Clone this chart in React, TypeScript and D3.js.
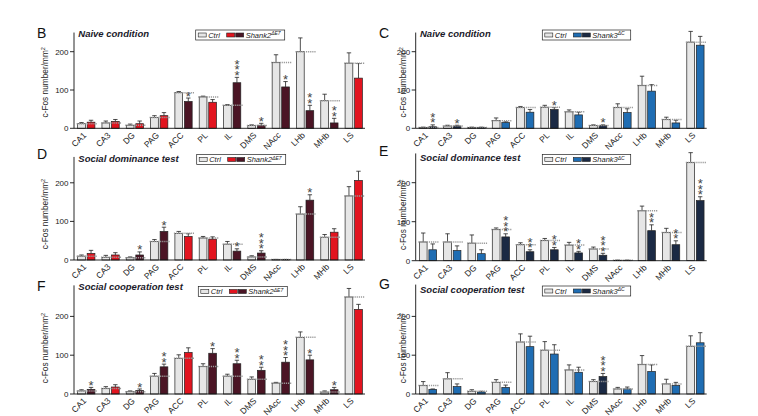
import React from 'react';
import * as d3 from 'd3';

const categories = ['CA1', 'CA3', 'DG', 'PAG', 'ACC', 'PL', 'IL', 'DMS', 'NAcc', 'LHb', 'MHb', 'LS'];
const yTicks = [0, 100, 200];

// Panel B: Shank2, naive
const bCtrl = [12, 14, 8, 28, 93, 82, 60, 7, 172, 200, 72, 170];
const bCtrlErr = [3, 5, 3, 5, 3, 2, 2, 2, 20, 36, 17, 27];
const bMut = [16, 18, 12, 33, 70, 68, 119, 8, 108, 46, 14, 131];
const bMutErr = [5, 5, 7, 8, 9, 7, 14, 5, 14, 14, 12, 38];
const bStars = [0, 0, 0, 0, 1, 0, 3, 1, 1, 2, 2, 0];

// Panel C: Shank3, naive
const cCtrl = [2, 6, 2, 20, 54, 55, 43, 7, 54, 112, 23, 225];
const cCtrlErr = [1, 2, 1, 7, 3, 5, 5, 2, 10, 24, 6, 28];
const cMut = [4, 6, 2, 15, 42, 49, 35, 7, 41, 97, 14, 217];
const cMutErr = [5, 2, 1, 2, 7, 5, 7, 2, 10, 17, 7, 23];
const cStars = [2, 1, 0, 0, 0, 1, 0, 1, 0, 0, 0, 0];

// Panel D: Shank2, social dominance
const dCtrl = [10, 7, 6, 48, 69, 57, 41, 8, 1, 119, 59, 166];
const dCtrlErr = [3, 5, 2, 5, 5, 4, 7, 3, 0.5, 19, 7, 24];
const dMut = [17, 13, 13, 74, 61, 54, 23, 18, 1, 155, 72, 206];
const dMutErr = [8, 6, 8, 11, 7, 6, 6, 6, 0.5, 14, 9, 24];
const dStars = [0, 0, 1, 1, 0, 0, 1, 3, 0, 1, 0, 0];

// Panel E: Shank3, social dominance
const eCtrl = [48, 48, 45, 80, 41, 52, 40, 30, 1, 128, 72, 252];
const eCtrlErr = [23, 21, 21, 4, 5, 5, 7, 5, 0.5, 12, 11, 25];
const eMut = [28, 26, 18, 61, 23, 28, 20, 14, 1, 77, 41, 154];
const eMutErr = [15, 12, 10, 8, 5, 6, 4, 5, 0.5, 15, 10, 10];
const eStars = [0, 0, 0, 3, 2, 2, 2, 3, 0, 2, 2, 3];

// Panel F: Shank2, social cooperation
const fCtrl = [8, 14, 6, 46, 92, 71, 46, 38, 28, 146, 5, 250];
const fCtrlErr = [3, 5, 2, 7, 9, 7, 5, 6, 2, 14, 3, 22];
const fMut = [12, 18, 9, 70, 107, 105, 78, 61, 82, 88, 11, 218];
const fMutErr = [5, 6, 4, 7, 12, 12, 9, 8, 12, 12, 6, 13];
const fStars = [1, 0, 1, 2, 0, 1, 2, 2, 3, 1, 1, 0];

// Panel G: Shank3, social cooperation
const gCtrl = [22, 39, 7, 30, 134, 113, 62, 32, 13, 76, 26, 123];
const gCtrlErr = [10, 16, 4, 7, 21, 22, 13, 5, 4, 23, 12, 27];
const gMut = [12, 19, 5, 17, 122, 103, 56, 45, 13, 58, 22, 132];
const gMutErr = [1, 7, 2, 6, 27, 24, 13, 8, 5, 17, 8, 26];
const gStars = [0, 0, 0, 0, 0, 0, 0, 3, 0, 0, 0, 0];

const CTRL = '#e6e6e6';
const GENES: Record<string, { name: string; sup: string; bright: string; dark: string }> = {
  s2: { name: 'Shank2', sup: 'ΔE7', bright: '#e2141f', dark: '#4b1525' },
  s3: { name: 'Shank3', sup: 'ΔC', bright: '#1f6db3', dark: '#1b2a44' },
};

const FONT = 'Liberation Sans, Arial, sans-serif';

type Panel = {
  letter: string; title: string; gene: string;
  axisX: number; y0: number; px100: number; yMax: number;
  letterX: number; letterY: number; titleY: number; legX: number; legY: number;
  ctrl: number[]; ctrlErr: number[]; mut: number[]; mutErr: number[]; stars: number[];
};

const panels: Panel[] = [
  { letter: 'B', title: 'Naive condition', gene: 's2', axisX: 74, y0: 128.3, px100: 38.3, yMax: 250,
    letterX: 37, letterY: 38, titleY: 37.3, legX: 195.7, legY: 30, ctrl: bCtrl, ctrlErr: bCtrlErr, mut: bMut, mutErr: bMutErr, stars: bStars },
  { letter: 'C', title: 'Naive condition', gene: 's3', axisX: 415.7, y0: 128.3, px100: 38.3, yMax: 250,
    letterX: 379, letterY: 38, titleY: 37.3, legX: 542.3, legY: 30, ctrl: cCtrl, ctrlErr: cCtrlErr, mut: cMut, mutErr: cMutErr, stars: cStars },
  { letter: 'D', title: 'Social dominance test', gene: 's2', axisX: 74, y0: 260, px100: 38.6, yMax: 267,
    letterX: 37, letterY: 159, titleY: 161.5, legX: 196.7, legY: 154.5, ctrl: dCtrl, ctrlErr: dCtrlErr, mut: dMut, mutErr: dMutErr, stars: dStars },
  { letter: 'E', title: 'Social dominance test', gene: 's3', axisX: 415.7, y0: 260.7, px100: 39, yMax: 275,
    letterX: 379, letterY: 155.5, titleY: 161, legX: 542.3, legY: 154.5, ctrl: eCtrl, ctrlErr: eCtrlErr, mut: eMut, mutErr: eMutErr, stars: eStars },
  { letter: 'F', title: 'Social cooperation test', gene: 's2', axisX: 74, y0: 394, px100: 38.8, yMax: 280,
    letterX: 37, letterY: 290.5, titleY: 290, legX: 198.3, legY: 286.5, ctrl: fCtrl, ctrlErr: fCtrlErr, mut: fMut, mutErr: fMutErr, stars: fStars },
  { letter: 'G', title: 'Social cooperation test', gene: 's3', axisX: 415.7, y0: 394, px100: 38.8, yMax: 282,
    letterX: 379, letterY: 289, titleY: 293, legX: 542.3, legY: 286, ctrl: gCtrl, ctrlErr: gCtrlErr, mut: gMut, mutErr: gMutErr, stars: gStars },
];

function PanelView({ p }: { p: Panel }) {
  const g = GENES[p.gene];
  const y = d3.scaleLinear().domain([0, p.yMax]).range([p.y0, p.y0 - (p.yMax * p.px100) / 100]);
  const x = d3.scaleBand<string>().domain(categories).range([p.axisX, p.axisX + 292]).paddingInner(0.29).paddingOuter(0.15);
  const bw = x.bandwidth();
  const gap = 1.8;
  const barW = (bw - gap) / 2;
  const cap = 2.2;
  const isLeft = p.axisX < 200;
  const labelX = isLeft ? 47.5 : 405.5;
  const legW = p.gene === 's2' ? 89 : 88.4;

  return (
    <g>
      <text x={p.letterX} y={p.letterY} fontSize={14} fontFamily={FONT} fill="#111">{p.letter}</text>
      <text x={p.axisX + 4.3} y={p.titleY} fontSize={9.5} fontWeight="bold" fontStyle="italic" fontFamily={FONT} fill="#1a1a2a">{p.title}</text>
      <g transform={`translate(${labelX},${p.y0 - 46}) rotate(-90)`}>
        <text x={0} y={0} textAnchor="middle" fontSize={8.3} fontFamily={FONT} fill="#222">
          c-Fos number/mm<tspan dy={-3} fontSize={5.5}>2</tspan>
        </text>
      </g>
      {categories.map((c, i) => {
        const x0 = x(c) as number;
        const x1 = x0 + barW + gap;
        const mutColor = p.stars[i] > 0 ? g.dark : g.bright;
        const cTop = y(p.ctrl[i]);
        const mTop = y(p.mut[i]);
        const cErr = y(p.ctrl[i] + p.ctrlErr[i]);
        const mErr = y(p.mut[i] + p.mutErr[i]);
        const cx0 = x0 + barW / 2;
        const cx1 = x1 + barW / 2;
        return (
          <g key={c}>
            <line x1={cx0} x2={cx0} y1={cTop} y2={cErr} stroke="#222" strokeWidth={0.8} />
            <line x1={cx0 - cap} x2={cx0 + cap} y1={cErr} y2={cErr} stroke="#222" strokeWidth={0.8} />
            <line x1={cx1} x2={cx1} y1={mTop} y2={mErr} stroke="#222" strokeWidth={0.8} />
            <line x1={cx1 - cap} x2={cx1 + cap} y1={mErr} y2={mErr} stroke="#222" strokeWidth={0.8} />
            <rect x={x0} y={cTop} width={barW} height={p.y0 - cTop} fill={CTRL} stroke="#222" strokeWidth={0.7} />
            <rect x={x1} y={mTop} width={barW} height={p.y0 - mTop} fill={mutColor} stroke="#222" strokeWidth={0.7} />
            <line x1={x0 - 1} x2={x0 + bw + 2.5} y1={cTop} y2={cTop} stroke="#9a9a9a" strokeWidth={1.5} strokeDasharray="1.2 0.9" />
            {d3.range(p.stars[i]).map((k) => (
              <text key={k} x={cx1} y={mErr - 5 - k * 5.6 + 7.6} textAnchor="middle" fontSize={13} fontFamily={FONT} fill="#444">*</text>
            ))}
          </g>
        );
      })}
      <line x1={p.axisX} x2={p.axisX} y1={p.y0} y2={y(p.yMax)} stroke="#111" strokeWidth={0.9} />
      <line x1={p.axisX} x2={p.axisX + 291} y1={p.y0} y2={p.y0} stroke="#111" strokeWidth={0.9} />
      {yTicks.map((t) => (
        <g key={t}>
          <line x1={p.axisX - 4} x2={p.axisX} y1={y(t)} y2={y(t)} stroke="#111" strokeWidth={0.9} />
          <text x={p.axisX - 5.5} y={y(t)} dy="0.35em" textAnchor="end" fontSize={8} fontFamily={FONT} fill="#222">{t}</text>
        </g>
      ))}
      {categories.map((c) => {
        const tx = (x(c) as number) + bw / 2 + 0.5;
        const ty = p.y0 + 7.5;
        return (
          <text key={c} transform={`translate(${tx},${ty}) rotate(-45)`} x={0} y={0} textAnchor="end" fontSize={8.5} fontFamily={FONT} fill="#222">{c}</text>
        );
      })}
      <g>
        <rect x={p.legX} y={p.legY} width={legW} height={10} fill="#fff" stroke="#222" strokeWidth={0.7} />
        <rect x={p.legX + 2.5} y={p.legY + 3} width={8} height={4} fill={CTRL} stroke="#222" strokeWidth={0.6} />
        <text x={p.legX + 12.5} y={p.legY + 7.8} fontSize={7.5} fontStyle="italic" fontFamily={FONT} fill="#222">Ctrl</text>
        <rect x={p.legX + 31} y={p.legY + 3} width={8} height={4} fill={g.bright} stroke="#222" strokeWidth={0.6} />
        <rect x={p.legX + 40} y={p.legY + 3} width={8} height={4} fill={g.dark} stroke="#222" strokeWidth={0.6} />
        <text x={p.legX + 50} y={p.legY + 7.8} fontSize={7.5} fontStyle="italic" fontFamily={FONT} fill="#222">
          {g.name}<tspan dy={-2.5} fontSize={5}>{g.sup}</tspan>
        </text>
      </g>
    </g>
  );
}

export default function App() {
  return (
    <svg width={758} height={416} style={{ position: 'absolute', left: 0, top: 0, background: '#fff' }}>
      <rect x={0} y={0} width={758} height={416} fill="#fff" />
      {panels.map((p) => (
        <PanelView key={p.letter} p={p} />
      ))}
    </svg>
  );
}
